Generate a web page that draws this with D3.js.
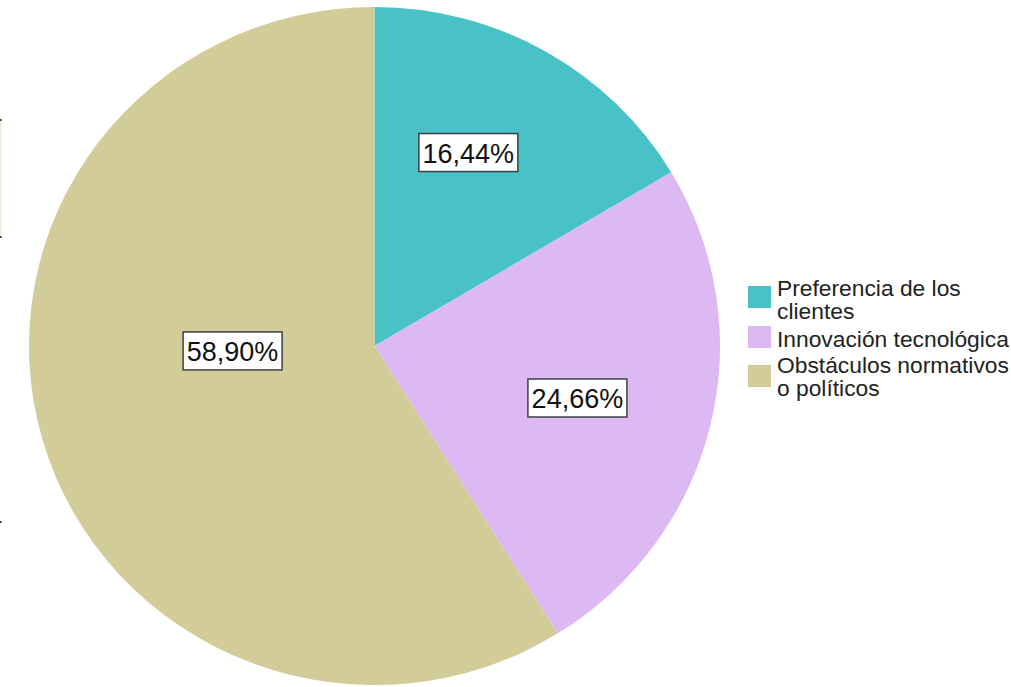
<!DOCTYPE html>
<html>
<head>
<meta charset="utf-8">
<script src="https://cdn.jsdelivr.net/npm/d3@7"></script>
<style>
  html, body { margin: 0; padding: 0; background: #ffffff; }
  svg { display: block; }
</style>
</head>
<body>
<svg id="chart" width="1011" height="687"></svg>
<script>
// ---- data ----
const categories = ["Preferencia de los clientes", "Innovación tecnológica", "Obstáculos normativos o políticos"];
const legendLines = [["Preferencia de los", "clientes"], ["Innovación tecnológica"], ["Obstáculos normativos", "o políticos"]];
const values = [16.44, 24.66, 58.90];
const valueLabels = ["16,44%", "24,66%", "58,90%"];
const colors = ["#49C2C7", "#DDB9F3", "#D2CD98"];

// ---- layout (positions kept separate from data) ----
const W = 1011, H = 687;
const cx = 374.5, cy = 346, R = 345.5, yScale = 339 / 345.5;
// label placement: fraction along slice angle, fraction of radius
const labelLayout = [{t: 0.43, r: 0.632}, {t: 0.512, r: 0.607}, {t: 0.566, r: 0.411}];

const svg = d3.select("#chart");

const pie = d3.pie().sort(null).value(d => d)(values);
const arc = d3.arc().innerRadius(0).outerRadius(R);

const g = svg.append("g").attr("transform", `translate(${cx},${cy}) scale(1,${yScale})`);
g.selectAll("path").data(pie).enter().append("path")
  .attr("d", arc)
  .attr("fill", (d, i) => colors[i]);

// labels
const lab = svg.append("g");
pie.forEach((d, i) => {
  const L = labelLayout[i];
  const a = d.startAngle + (d.endAngle - d.startAngle) * L.t;
  const rr = R * L.r;
  const x = cx + Math.sin(a) * rr;
  const y = cy - Math.cos(a) * rr * yScale;
  const bw = 99, bh = 38;
  lab.append("rect")
    .attr("x", x - bw / 2).attr("y", y - bh / 2)
    .attr("width", bw).attr("height", bh)
    .attr("fill", "#ffffff").attr("stroke", "#3c4045").attr("stroke-width", 1.5);
  lab.append("text")
    .attr("x", x).attr("y", y + 10)
    .attr("text-anchor", "middle")
    .attr("font-family", "Liberation Sans, Arial, sans-serif")
    .attr("font-size", 27)
    .attr("fill", "#111111")
    .text(valueLabels[i]);
});

// legend
const leg = svg.append("g");
const swatchTop = [286, 326, 365];
const firstBaseline = [296, 347, 373];
const swX = 748, swW = 23, swH = 22;
const lineH = 23;
legendLines.forEach((lines, i) => {
  leg.append("rect")
    .attr("x", swX).attr("y", swatchTop[i])
    .attr("width", swW).attr("height", swH)
    .attr("fill", colors[i]);
  lines.forEach((ln, k) => {
    leg.append("text")
      .attr("font-family", "Liberation Sans, Arial, sans-serif")
      .attr("font-size", 22.8)
      .attr("fill", "#222222")
      .attr("x", swX + 29)
      .attr("y", firstBaseline[i] + k * lineH)
      .text(ln);
  });
});

// cropping remnants at left edge
svg.append("rect").attr("x", 0).attr("y", 120).attr("width", 1.5).attr("height", 117).attr("fill", "#e3efd9");
[120, 237, 522].forEach(y => {
  svg.append("rect").attr("x", 0).attr("y", y - 1).attr("width", 1.5).attr("height", 2).attr("fill", "#333333");
});
</script>
</body>
</html>
